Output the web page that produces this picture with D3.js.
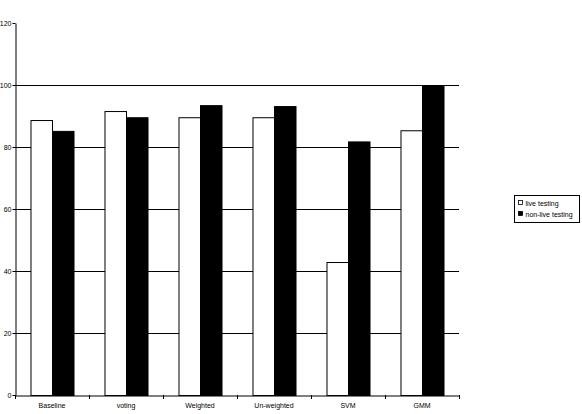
<!DOCTYPE html>
<html><head><meta charset="utf-8">
<script src="https://cdn.jsdelivr.net/npm/d3@7"></script>
<style>body{margin:0;background:#fff}text{font-family:"Liberation Sans",Arial,sans-serif;font-size:7px}</style>
</head><body><div id="chart"></div>
<script>
// data
var categories = ["Baseline", "voting", "Weighted", "Un-weighted", "SVM", "GMM"];
var live = [88.7, 91.6, 89.6, 89.6, 42.9, 85.4];
var nonLive = [85.2, 89.6, 93.5, 93.2, 81.8, 100];
var seriesNames = ["live testing", "non-live testing"];
var yTicks = [0, 20, 40, 60, 80, 100, 120];

var svg = d3.select("#chart").append("svg").attr("width", 582).attr("height", 414);

var x = d3.scaleBand().domain(categories).range([15, 459]);
var y = d3.scaleLinear().domain([0, 120]).range([395, 23]);

// gridlines (none at the top tick)
svg.selectAll(".grid").data(yTicks.slice(1, -1)).enter().append("line")
    .attr("x1", 15).attr("x2", 459)
    .attr("y1", d => y(d) + 0.5).attr("y2", d => y(d) + 0.5)
    .attr("stroke", "#000");

var inner = d3.scaleBand().domain([0, 1]).range([0, x.bandwidth()]).paddingInner(0).paddingOuter(0.72);

var g = svg.selectAll(".cat").data(categories).enter().append("g")
    .attr("transform", d => `translate(${x(d)},0)`);
g.append("rect")
    .attr("x", (d, i) => inner(0) + 0.5).attr("width", inner.bandwidth())
    .attr("y", (d, i) => y(live[i]) + 0.5).attr("height", (d, i) => 395 - y(live[i]))
    .attr("fill", "#fff").attr("stroke", "#000");
g.append("rect")
    .attr("x", (d, i) => inner(1) + 0.5).attr("width", inner.bandwidth())
    .attr("y", (d, i) => y(nonLive[i]) + 0.5).attr("height", (d, i) => 395 - y(nonLive[i]))
    .attr("fill", "#000").attr("stroke", "#000");

// axes
svg.append("g").attr("transform", "translate(15.5,0)")
    .call(d3.axisLeft(y).tickValues(yTicks).tickSize(3).tickSizeOuter(0))
    .call(a => a.select(".domain").attr("stroke", "#000"))
    .selectAll("text").attr("x", -4);
var xa = svg.append("g").attr("transform", "translate(0,395.5)")
    .call(d3.axisBottom(x).tickSize(0).tickSizeOuter(0));
xa.selectAll("text").attr("dy", "1.4em");
svg.selectAll(".xt").data(d3.range(categories.length + 1)).enter().append("line")
    .attr("x1", d => 15.5 + d * x.step()).attr("x2", d => 15.5 + d * x.step())
    .attr("y1", 395).attr("y2", 399).attr("stroke", "#000");
svg.selectAll("text").attr("font-family", null).attr("font-size", null).attr("fill", "#000");

// legend
var lg = svg.append("g").attr("transform", "translate(514.5,195.5)");
lg.append("rect").attr("width", 65).attr("height", 27).attr("fill", "#fff").attr("stroke", "#000");
seriesNames.forEach(function (n, i) {
    lg.append("rect").attr("x", 4).attr("y", 5 + i * 11).attr("width", 4).attr("height", 4)
        .attr("fill", i ? "#000" : "#fff").attr("stroke", "#000").attr("stroke-width", 0.8);
    lg.append("text").attr("x", 11).attr("y", 10 + i * 11).text(n);
});
</script></body></html>
